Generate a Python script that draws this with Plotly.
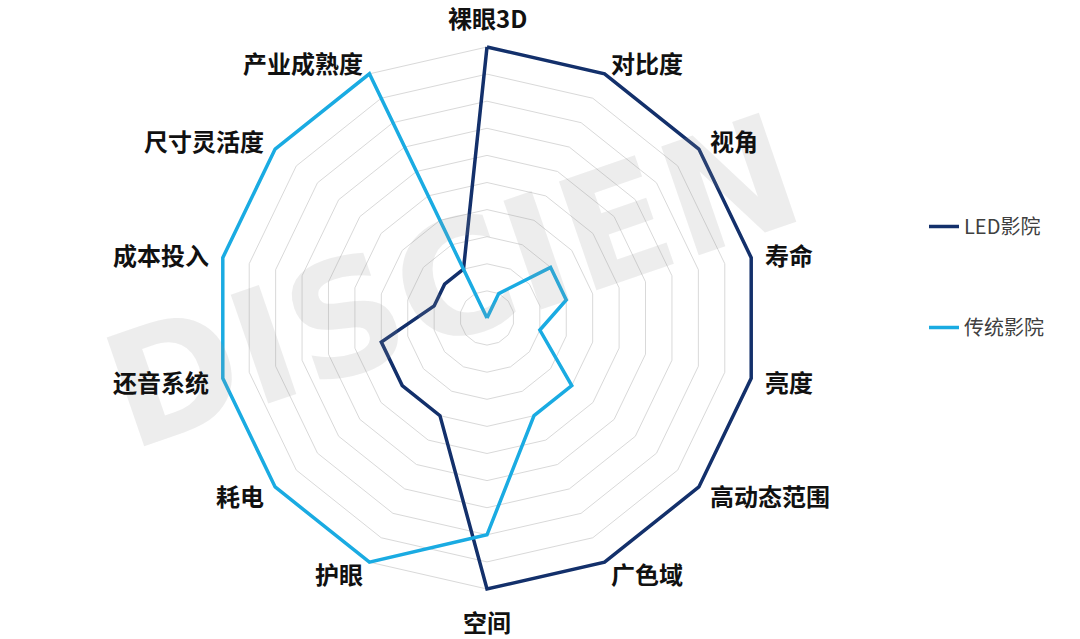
import math
import plotly.graph_objects as go

categories = ["裸眼3D", "对比度", "视角", "寿命", "亮度", "高动态范围", "广色域", "空间",
              "护眼", "耗电", "还音系统", "成本投入", "尺寸灵活度", "产业成熟度"]
led_values = [10, 10, 10, 10, 10, 10, 10, 10, 4, 4, 4, 2, 2, 2]
trad_values = [0, 1, 3, 3, 2, 4, 4, 8, 10, 10, 10, 10, 10, 10]
series_names = ["LED影院", "传统影院"]
colors = ["#13306b", "#1aabe2"]

W, H = 1080, 639
PCX, PCY, PR = 487, 318, 271  # pixel centre and outer radius of the radar
RMAX = 10.25
R = PR * RMAX / 10

fig = go.Figure()
for name, vals, col, grp in [(series_names[0], led_values, colors[0], "a"),
                             (series_names[1], trad_values, colors[1], "b")]:
    fig.add_trace(go.Scatterpolar(
        r=vals + vals[:1], theta=categories + categories[:1],
        mode="lines", name=name, legendgroup=grp, cliponaxis=False,
        line=dict(color=col, width=3.5),
    ))

# category labels placed around the outer polygon
annotations = []
n = len(categories)
for i, lab in enumerate(categories):
    th = 2 * math.pi * i / n
    s, c = math.sin(th), math.cos(th)
    if abs(s) < 0.2:
        g = 30 if c > 0 else 32
        xa = "center"
        px, py = PCX + (PR + g) * s, PCY - (PR + g) * c
    else:
        g, xa = 13, ("left" if s > 0 else "right")
        px, py = PCX + PR * s + g * s, PCY - PR * c - g * c
    annotations.append(dict(text=lab, x=px / W, y=1 - py / H,
                            xref="paper", yref="paper", showarrow=False,
                            xanchor=xa, yanchor="middle", borderpad=0,
                            font=dict(size=24, color="#111111",
                                      family="Noto Sans CJK SC", weight="bold")))

annotations.insert(0, dict(text="DISCIEN", x=452 / W, y=1 - 282 / H,
                           xref="paper", yref="paper",
                           showarrow=False, textangle=-19,
                           font=dict(size=158, color="rgba(150,150,150,0.17)",
                                     family="DejaVu Sans", weight="bold")))

fig.update_layout(
    width=W, height=H,
    margin=dict(l=0, r=0, t=0, b=0),
    paper_bgcolor="white",
    font=dict(family="Noto Sans CJK SC, Noto Sans, sans-serif"),
    polar=dict(
        domain=dict(x=[(PCX - R) / W, (PCX + R) / W],
                    y=[(H - PCY - R) / H, (H - PCY + R) / H]),
        bgcolor="rgba(0,0,0,0)",
        gridshape="linear",
        radialaxis=dict(range=[0, RMAX], tick0=0, dtick=1, showticklabels=False, ticks="",
                        showline=False, gridcolor="#d9d9d9", gridwidth=1),
        angularaxis=dict(direction="clockwise", rotation=90,
                         showgrid=False, showline=False, ticks="",
                         showticklabels=False),
    ),
    legend=dict(x=924 / W, y=1 - 207 / H,
                xanchor="left", yanchor="top",
                font=dict(size=20, color="#404040"), tracegroupgap=72,
                bgcolor="rgba(0,0,0,0)"),
    annotations=annotations,
)

fig.write_html("out.html", config={"displayModeBar": False},
               post_script="document.body.style.margin='0';")
